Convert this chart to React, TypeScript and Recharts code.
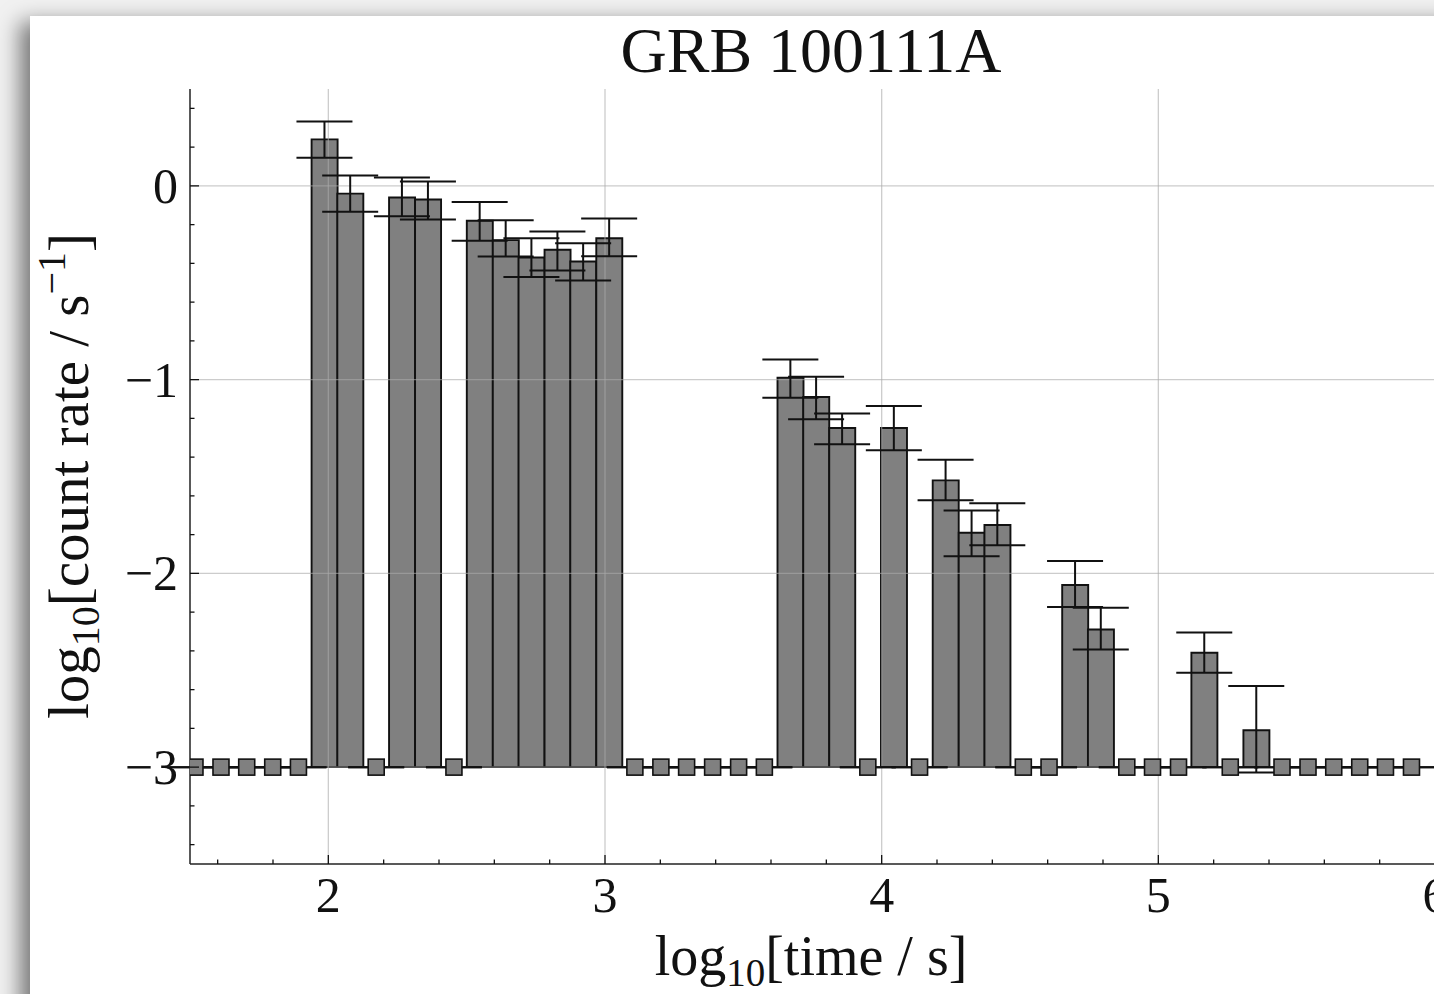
import React from "react";
import {
  ComposedChart,
  Bar,
  Scatter,
  XAxis,
  YAxis,
  ErrorBar,
  ReferenceLine,
} from "recharts";

// log10 time bin centres
const TIMES = [
  1.518, 1.612, 1.705, 1.799, 1.892, 1.986, 2.079, 2.173, 2.266, 2.36,
  2.454, 2.547, 2.641, 2.734, 2.828, 2.921, 3.015, 3.108, 3.202, 3.295,
  3.389, 3.483, 3.576, 3.67, 3.763, 3.857, 3.95, 4.044, 4.137, 4.231,
  4.325, 4.418, 4.512, 4.605, 4.699, 4.792, 4.886, 4.979, 5.073, 5.166,
  5.26, 5.354, 5.447, 5.541, 5.634, 5.728, 5.821, 5.915,
];

// log10 count rate, -3 marks an empty bin
const RATES = [
  -3, -3, -3, -3, -3, 0.24, -0.04, -3, -0.06, -0.07,
  -3, -0.18, -0.28, -0.37, -0.33, -0.39, -0.27, -3, -3, -3,
  -3, -3, -3, -0.99, -1.09, -1.25, -3, -1.25, -3, -1.52,
  -1.79, -1.75, -3, -3, -2.06, -2.29, -3, -3, -3, -2.41,
  -3, -2.81, -3, -3, -3, -3, -3, -3,
];

const ERR_LO = [
  0, 0, 0, 0, 0, 0.095, 0.093, 0, 0.097, 0.103,
  0, 0.103, 0.085, 0.1, 0.107, 0.098, 0.093, 0, 0, 0,
  0, 0, 0, 0.103, 0.114, 0.083, 0, 0.114, 0, 0.103,
  0.122, 0.105, 0, 0, 0.114, 0.103, 0, 0, 0, 0.103,
  0, 0.218, 0, 0, 0, 0, 0, 0,
];

const ERR_HI = [
  0, 0, 0, 0, 0, 0.092, 0.093, 0, 0.103, 0.093,
  0, 0.097, 0.103, 0.1, 0.094, 0.094, 0.102, 0, 0, 0,
  0, 0, 0, 0.094, 0.105, 0.075, 0, 0.114, 0, 0.107,
  0.115, 0.112, 0, 0, 0.124, 0.112, 0, 0, 0, 0.105,
  0, 0.229, 0, 0, 0, 0, 0, 0,
];

const BASE = -3;

const MAJOR_X = [2, 3, 4, 5, 6];
const MINOR_X = [
  1.6, 1.8, 2.2, 2.4, 2.6, 2.8, 3.2, 3.4, 3.6, 3.8, 4.2, 4.4, 4.6, 4.8,
  5.2, 5.4, 5.6, 5.8,
];
const MAJOR_Y = [-3, -2, -1, 0];
const MINOR_Y = [
  -3.4, -3.2, -2.8, -2.6, -2.4, -2.2, -1.8, -1.6, -1.4, -1.2, -0.8, -0.6,
  -0.4, -0.2, 0.2, 0.4,
];

const X_TICKS = [...MAJOR_X, ...MINOR_X];
const Y_TICKS = [...MAJOR_Y, ...MINOR_Y];

const rows = TIMES.map((t, i) => ({
  t,
  span: [BASE, RATES[i]],
  rate: RATES[i],
  err: [ERR_LO[i], ERR_HI[i]],
  empty: RATES[i] <= BASE,
}));

const FONT = "'Liberation Serif', 'Times New Roman', serif";
const INK = "#111";
const MAJOR_LEN = 9;
const MINOR_LEN = 4.5;

const isMajor = (list: number[], v: number) =>
  list.some((m) => Math.abs(m - v) < 1e-6);

const fmt = (v: number) => (v < 0 ? "\u2212" + Math.abs(v) : String(v));

function BottomTick(props: any) {
  const { x, y, payload } = props;
  const major = isMajor(MAJOR_X, payload.value);
  return (
    <g>
      <line x1={x} y1={y} x2={x} y2={y - (major ? MAJOR_LEN : MINOR_LEN)} stroke={INK} strokeWidth={1.3} />
      {major && (
        <text x={x} y={y + 48} textAnchor="middle" fontSize={50} fontFamily={FONT} fill={INK}>
          {fmt(payload.value)}
        </text>
      )}
    </g>
  );
}

function TopTick(props: any) {
  const { x, y, payload } = props;
  const major = isMajor(MAJOR_X, payload.value);
  return <line x1={x} y1={y} x2={x} y2={y + (major ? MAJOR_LEN : MINOR_LEN)} stroke={INK} strokeWidth={1.3} />;
}

function LeftTick(props: any) {
  const { x, y, payload } = props;
  const major = isMajor(MAJOR_Y, payload.value);
  return (
    <g>
      <line x1={x} y1={y} x2={x + (major ? MAJOR_LEN : MINOR_LEN)} y2={y} stroke={INK} strokeWidth={1.3} />
      {major && (
        <text x={x - 12} y={y + 17} textAnchor="end" fontSize={50} fontFamily={FONT} fill={INK}>
          {fmt(payload.value)}
        </text>
      )}
    </g>
  );
}

function RightTick(props: any) {
  const { x, y, payload } = props;
  const major = isMajor(MAJOR_Y, payload.value);
  return <line x1={x} y1={y} x2={x - (major ? MAJOR_LEN : MINOR_LEN)} y2={y} stroke={INK} strokeWidth={1.3} />;
}

function EmptyMarker(props: any) {
  const { cx, cy, payload } = props;
  if (!payload || !payload.empty) return <g />;
  return <rect x={cx - 8} y={cy - 8} width={16} height={16} fill="#808080" stroke={INK} strokeWidth={1.6} />;
}

const spine = { stroke: "#222", strokeWidth: 1.5 };

export default function App() {
  return (
    <div
      style={{
        position: "fixed",
        left: 0,
        top: 0,
        width: 1434,
        height: 994,
        overflow: "hidden",
        background: "#f1f1f1",
        fontFamily: FONT,
      }}
    >
      <div
        style={{
          position: "absolute",
          left: 30,
          top: 16,
          width: 1500,
          height: 1100,
          background: "#fff",
          boxShadow: "-10px 6px 20px rgba(0,0,0,0.5)",
        }}
      />
      <div style={{ position: "absolute", left: 0, top: 0 }}>
        <ComposedChart
          width={1470}
          height={994}
          data={rows}
          margin={{ top: 89, right: 35, bottom: 70, left: 80 }}
          barCategoryGap={0}
          barGap={0}
        >
          <XAxis
            xAxisId="b"
            dataKey="t"
            type="number"
            domain={[1.5, 6]}
            allowDataOverflow
            ticks={X_TICKS}
            interval={0}
            tickSize={0}
            tickMargin={0}
            tickLine={false}
            tick={<BottomTick />}
            axisLine={spine}
            height={60}
          />
          <XAxis
            xAxisId="t"
            orientation="top"
            dataKey="t"
            type="number"
            domain={[1.5, 6]}
            allowDataOverflow
            ticks={X_TICKS}
            interval={0}
            tickSize={0}
            tickMargin={0}
            tickLine={false}
            tick={<TopTick />}
            axisLine={spine}
            height={0}
          />
          <YAxis
            yAxisId="l"
            type="number"
            domain={[-3.5, 0.5]}
            allowDataOverflow
            ticks={Y_TICKS}
            interval={0}
            tickSize={0}
            tickMargin={0}
            tickLine={false}
            tick={<LeftTick />}
            axisLine={spine}
            width={110}
          />
          <YAxis
            yAxisId="r"
            orientation="right"
            type="number"
            domain={[-3.5, 0.5]}
            allowDataOverflow
            ticks={Y_TICKS}
            interval={0}
            tickSize={0}
            tickMargin={0}
            tickLine={false}
            tick={<RightTick />}
            axisLine={spine}
            width={0}
          />
          <Bar
            xAxisId="b"
            yAxisId="l"
            dataKey="span"
            fill="#808080"
            stroke={INK}
            strokeWidth={1.9}
            isAnimationActive={false}
          />
          {MAJOR_X.slice(0, 4).map((v) => (
            <ReferenceLine key={"gx" + v} xAxisId="b" yAxisId="l" x={v} stroke="#aaaaaa" strokeOpacity={0.6} strokeWidth={1.3} />
          ))}
          {MAJOR_Y.map((v) => (
            <ReferenceLine key={"gy" + v} xAxisId="b" yAxisId="l" y={v} stroke="#aaaaaa" strokeOpacity={0.6} strokeWidth={1.3} />
          ))}
          <Scatter
            xAxisId="b"
            yAxisId="l"
            dataKey="rate"
            shape={<EmptyMarker />}
            isAnimationActive={false}
          >
            <ErrorBar dataKey="err" direction="y" width={28} stroke={INK} strokeWidth={2} />
          </Scatter>
        </ComposedChart>
      </div>
      <svg
        width={1434}
        height={994}
        style={{ position: "absolute", left: 0, top: 0, pointerEvents: "none" }}
      >
        <text x={811} y={72} textAnchor="middle" fontSize={64} fontFamily={FONT} fill={INK}>
          GRB 100111A
        </text>
        <text x={811} y={975} textAnchor="middle" fontSize={56} fontFamily={FONT} fill={INK}>
          log
          <tspan fontSize={39} dy={11}>10</tspan>
          <tspan dy={-11}>[time / s]</tspan>
        </text>
        <text
          x={0}
          y={0}
          transform="translate(88 476) rotate(-90)"
          textAnchor="middle"
          fontSize={57}
          fontFamily={FONT}
          fill={INK}
        >
          log
          <tspan fontSize={40} dy={11}>10</tspan>
          <tspan dy={-11}>[count rate / s</tspan>
          <tspan fontSize={40} dy={-23}>{"\u22121"}</tspan>
          <tspan dy={23}>]</tspan>
        </text>
      </svg>
    </div>
  );
}
